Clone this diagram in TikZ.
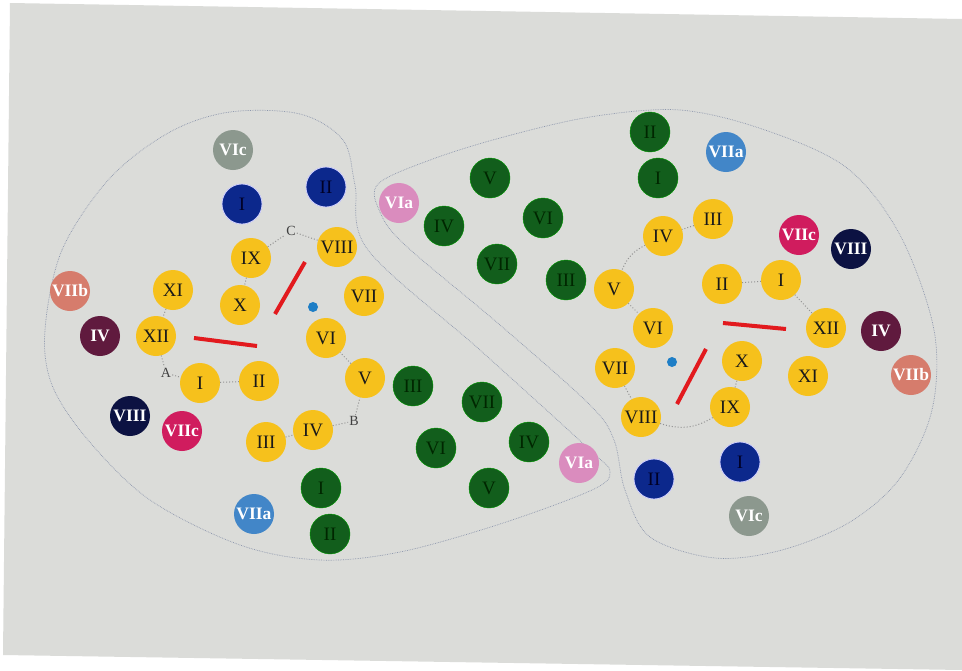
\documentclass[tikz,border=0pt]{standalone}
\usepackage{fontspec}
\setmainfont{Liberation Serif}
\definecolor{bgc}{RGB}{219,220,217}
\definecolor{yel}{RGB}{246,193,28}
\definecolor{grn}{RGB}{18,94,28}
\definecolor{blu}{RGB}{12,40,140}
\definecolor{navy}{RGB}{12,18,66}
\definecolor{purp}{RGB}{96,26,62}
\definecolor{salm}{RGB}{214,124,108}
\definecolor{mag}{RGB}{208,28,94}
\definecolor{skyb}{RGB}{66,134,200}
\definecolor{pinkc}{RGB}{218,140,190}
\definecolor{grayc}{RGB}{140,152,142}
\definecolor{redl}{RGB}{226,26,30}
\definecolor{dotb}{RGB}{30,126,198}
\definecolor{bnd}{RGB}{140,150,172}
\tikzset{
  disc/.style={circle, minimum size=40pt, inner sep=0pt},
  ylw/.style={disc, fill=yel, text=black!90, font=\fontsize{19}{19}\selectfont},
  gr/.style={disc, fill=grn, draw=green!60!black, line width=0.4pt, text=black!85!green, font=\fontsize{19}{19}\selectfont},
  bl/.style={disc, fill=blu, draw=white!80!blue, line width=0.8pt, text=black!85!blue, font=\fontsize{19}{19}\selectfont},
  wt/.style={disc, text=white, font=\bfseries\fontsize{17.5}{17.5}\selectfont},
  lbl/.style={font=\fontsize{14}{14}\selectfont, text=black!75, inner sep=1pt},
  ring/.style={draw=gray!85, dotted, line width=1pt},
  bound/.style={draw=bnd, densely dotted, line width=0.7pt},
  redbar/.style={draw=redl, line width=4pt},
}
\begin{document}
\begin{tikzpicture}[x=1pt,y=-1pt]
\useasboundingbox (0,0) rectangle (962,670);
\fill[white] (0,0) rectangle (962,670);
\fill[bgc] (10,3) -- (962,19) -- (962,670) -- (3,655) -- cycle;

% region outlines
\draw[bound] plot[smooth cycle, tension=0.55] coordinates {
 (45,330) (62,250) (110,178) (170,132) (230,112) (300,114) (343,140) (355,185)
 (368,250) (480,350) (590,450) (610,472) (592,490) (500,524) (400,552) (320,560)
 (240,545) (150,500) (88,440) (52,385)};
\draw[bound] plot[smooth cycle, tension=0.55] coordinates {
 (378,184) (380,212) (405,245) (500,325) (590,405) (614,440) (625,490) (650,537)
 (715,558) (782,550) (850,522) (900,478) (932,410) (934,330) (900,235) (847,168)
 (765,130) (680,110) (590,117) (500,138) (430,160)};

% ---------------- left group ----------------
\node[wt, fill=grayc] (LVIc) at (233,150) {VIc};
\node[bl] (LbI) at (242,204) {I};
\node[bl] (LbII) at (326,187) {II};
\node[wt, fill=salm] (LVIIb) at (70,291) {VIIb};
\node[wt, fill=purp] (LIVp) at (100,336) {IV};
\node[wt, fill=navy] (LVIIIn) at (130,416) {VIII};
\node[wt, fill=mag] (LVIIc) at (182,431) {VIIc};
\node[wt, fill=skyb] (LVIIa) at (254,514) {VIIa};
\node[gr] (LgI) at (321,488) {I};
\node[gr] (LgII) at (330,534) {II};

\node[ylw] (LI) at (200,383) {I};
\node[ylw] (LII) at (259,381) {II};
\node[ylw] (LIII) at (266,442) {III};
\node[ylw] (LIV) at (313,430) {IV};
\node[ylw] (LV) at (365,378) {V};
\node[ylw] (LVI) at (326,338) {VI};
\node[ylw] (LVII) at (364,296) {VII};
\node[ylw] (LVIII) at (337,247) {VIII};
\node[ylw] (LIX) at (251,258) {IX};
\node[ylw] (LX) at (240,305) {X};
\node[ylw] (LXI) at (173,290) {XI};
\node[ylw] (LXII) at (156,336) {XII};
\node[lbl] (LA) at (166,373) {A};
\node[lbl] (LB) at (354,421) {B};
\node[lbl] (LC) at (291,231) {C};
\fill[dotb] (313,307) circle (5pt);
\coordinate (Lr1a) at (194,338); \coordinate (Lr1b) at (257,346);
\coordinate (Lr2a) at (275,314); \coordinate (Lr2b) at (305,262);
\draw[redbar] (Lr1a) -- (Lr1b);
\draw[redbar] (Lr2a) -- (Lr2b);

\draw[ring] (LI) -- (LII);
\draw[ring] (LIII) -- (LIV);
\draw[ring] (LIV) -- (LB) -- (LV);
\draw[ring] (LV) -- (LVI);
\draw[ring] (LIX) -- (LC) -- (LVIII);
\draw[ring] (LIX) -- (LX);
\draw[ring] (LXI) -- (LXII);
\draw[ring] (LXII) -- (LA) -- (LI);

% ---------------- middle greens ----------------
\node[wt, fill=pinkc] (MVIa1) at (399,203) {VIa};
\node[gr] (MgV1) at (490,178) {V};
\node[gr] (MgIV1) at (444,226) {IV};
\node[gr] (MgVI1) at (543,218) {VI};
\node[gr] (MgVII1) at (497,264) {VII};
\node[gr] (MgIII1) at (566,280) {III};
\node[gr] (MgIII2) at (413,386) {III};
\node[gr] (MgVII2) at (482,402) {VII};
\node[gr] (MgVI2) at (436,448) {VI};
\node[gr] (MgIV2) at (529,442) {IV};
\node[wt, fill=pinkc] (MVIa2) at (579,463) {VIa};
\node[gr] (MgV2) at (489,488) {V};

% ---------------- right group ----------------
\node[gr] (RgII) at (650,132) {II};
\node[gr] (RgI) at (658,178) {I};
\node[wt, fill=skyb] (RVIIa) at (726,152) {VIIa};
\node[wt, fill=mag] (RVIIc) at (799,235) {VIIc};
\node[wt, fill=navy] (RVIIIn) at (851,249) {VIII};
\node[wt, fill=purp] (RIVp) at (881,331) {IV};
\node[wt, fill=salm] (RVIIb) at (911,375) {VIIb};
\node[bl] (RbII) at (654,479) {II};
\node[bl] (RbI) at (740,462) {I};
\node[wt, fill=grayc] (RVIc) at (749,516) {VIc};

\node[ylw] (RI) at (781,280) {I};
\node[ylw] (RII) at (722,284) {II};
\node[ylw] (RIII) at (713,219) {III};
\node[ylw] (RIV) at (663,236) {IV};
\node[ylw] (RV) at (614,289) {V};
\node[ylw] (RVI) at (653,328) {VI};
\node[ylw] (RVII) at (615,368) {VII};
\node[ylw] (RVIII) at (641,417) {VIII};
\node[ylw] (RIX) at (730,407) {IX};
\node[ylw] (RX) at (742,361) {X};
\node[ylw] (RXI) at (808,376) {XI};
\node[ylw] (RXII) at (826,328) {XII};
\fill[dotb] (672,362) circle (5pt);
\coordinate (Rr1a) at (723,323); \coordinate (Rr1b) at (786,329);
\coordinate (Rr2a) at (677,404); \coordinate (Rr2b) at (706,349);
\draw[redbar] (Rr1a) -- (Rr1b);
\draw[redbar] (Rr2a) -- (Rr2b);

\draw[ring] (RII) -- (RI);
\draw[ring] (RIII) -- (RIV);
\draw[ring] (RIV) to[bend right=20] (RV);
\draw[ring] (RV) -- (RVI);
\draw[ring] (RVII) -- (RVIII);
\draw[ring] (RVIII) to[bend right=25] (RIX);
\draw[ring] (RIX) -- (RX);
\draw[ring] (RI) -- (RXII);
\end{tikzpicture}
\end{document}
